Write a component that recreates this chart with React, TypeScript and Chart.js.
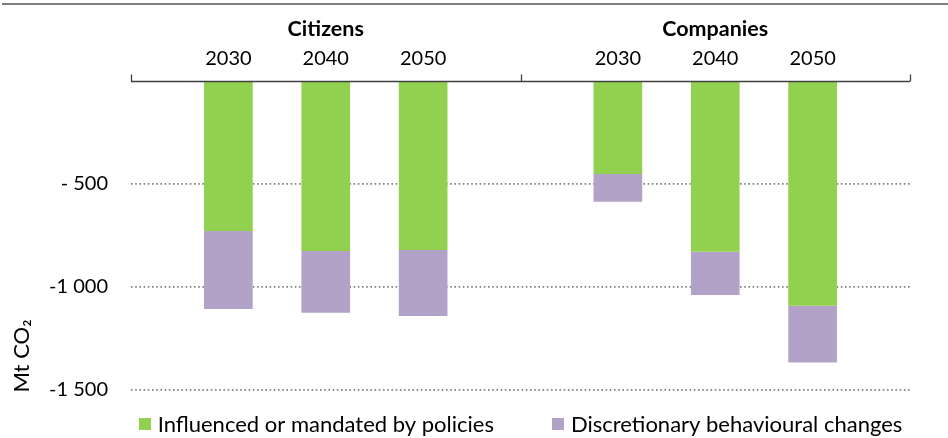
import React, { useEffect, useRef } from "react";
import { Chart, registerables } from "chart.js";

Chart.register(...registerables);

// ---- data ----
const categories = ["", "2030", "2040", "2050", "", "2030", "2040", "2050", ""];
const groupLabels = ["Citizens", "Companies"];
const groupCenters = [2, 6];
const groupBoundaries = [0, 4, 8];
const seriesNames = ["Influenced or mandated by policies", "Discretionary behavioural changes"];
const policyValues = [null, -728, -825, -820, null, -451, -829, -1091, null];
const behaviourValues = [null, -379, -300, -321, null, -135, -210, -275, null];
const yTickValues = [-1500, -1000, -500];
const yTickLabels = ["-1 500", "-1 000", "- 500"];
const yTitle = "Mt CO\u2082";

const GREEN = "#92D050";
const PURPLE = "#B3A2C7";
const FONT = "Lato, 'Open Sans', sans-serif";
const FS = 20;
const FS_TEXT = 22;

const decor = {
  id: "decor",
  afterDraw(chart: any) {
    const ctx = chart.ctx;
    const x = chart.scales.x;
    const y = chart.scales.y;
    const ca = chart.chartArea;
    ctx.save();
    // top rule
    ctx.fillStyle = "#7f7f7f";
    ctx.fillRect(2, 3, chart.width - 2, 2);
    // category axis line with group separators
    const y0 = Math.round(y.getPixelForValue(0)) + 0.5;
    ctx.strokeStyle = "#404040";
    ctx.lineWidth = 1.3;
    ctx.beginPath();
    ctx.moveTo(x.getPixelForValue(groupBoundaries[0]), y0);
    ctx.lineTo(x.getPixelForValue(groupBoundaries[groupBoundaries.length - 1]), y0);
    groupBoundaries.forEach((i) => {
      const px = Math.round(x.getPixelForValue(i)) + 0.5;
      ctx.moveTo(px, y0);
      ctx.lineTo(px, y0 - 7);
    });
    ctx.stroke();
    // group labels
    ctx.fillStyle = "#000";
    ctx.textAlign = "center";
    ctx.textBaseline = "middle";
    ctx.font = `bold 21.5px ${FONT}`;
    groupLabels.forEach((g, i) => {
      ctx.fillText(g, x.getPixelForValue(groupCenters[i]), 29);
    });
    // y title
    ctx.save();
    ctx.translate(22, 356);
    ctx.rotate(-Math.PI / 2);
    ctx.font = `${FS_TEXT}px ${FONT}`;
    ctx.fillText(yTitle, 0, 0);
    ctx.restore();
    // legend
    ctx.font = `${FS_TEXT}px ${FONT}`;
    const box = 12, gap = 7, itemGap = 58;
    const ds = chart.data.datasets;
    const widths = ds.map((d: any) => ctx.measureText(d.label).width);
    const total = widths.reduce((a: number, w: number) => a + box + gap + w, 0) + itemGap * (ds.length - 1);
    let cx = (ca.left + ca.right) / 2 - total / 2;
    const ly = 424;
    ctx.textAlign = "left";
    ds.forEach((d: any, i: number) => {
      ctx.fillStyle = d.backgroundColor;
      ctx.fillRect(Math.round(cx), ly - box / 2, box, box);
      ctx.fillStyle = "#000";
      ctx.fillText(d.label, cx + box + gap, ly + 1);
      cx += box + gap + widths[i] + itemGap;
    });
    ctx.restore();
  },
};

export default function App() {
  const ref = useRef<HTMLCanvasElement | null>(null);
  useEffect(() => {
    document.body.style.margin = "0";
    const chart = new Chart(ref.current as HTMLCanvasElement, {
      type: "bar",
      data: {
        labels: categories,
        datasets: [
          { label: seriesNames[0], data: policyValues, backgroundColor: GREEN, borderWidth: 0, categoryPercentage: 1, barPercentage: 0.5 },
          { label: seriesNames[1], data: behaviourValues, backgroundColor: PURPLE, borderWidth: 0, categoryPercentage: 1, barPercentage: 0.5 },
        ],
      },
      options: {
        responsive: false,
        animation: false,
        devicePixelRatio: 1,
        layout: { padding: { left: 0, right: 38, top: 0, bottom: 48 } },
        plugins: { legend: { display: false }, tooltip: { enabled: false } },
        scales: {
          x: {
            type: "category",
            position: "top",
            stacked: true,
            offset: false,
            grid: { display: false, drawTicks: false },
            border: { display: false },
            ticks: { autoSkip: false, maxRotation: 0, padding: 10, color: "#000", font: { family: FONT, size: FS } },
            afterFit: (s: any) => { s.height = 81; },
          },
          y: {
            stacked: true,
            min: -1500,
            max: 0,
            grid: {
              drawTicks: false,
              lineWidth: 1.8,
              color: (c: any) => (c.tick && c.tick.value === 0 ? "rgba(0,0,0,0)" : "#808080"),
            },
            border: { display: false, dash: [1.6, 2.6] },
            ticks: {
              stepSize: 500,
              padding: 23,
              color: "#000",
              font: { family: FONT, size: FS },
              callback: (v: any) => {
                const i = yTickValues.indexOf(Number(v));
                return i >= 0 ? yTickLabels[i] : "";
              },
            },
            afterFit: (s: any) => { s.width = 131; },
          },
        },
      },
      plugins: [decor],
    });
    return () => chart.destroy();
  }, []);
  return (
    <div style={{ width: 948, height: 438 }}>
      <canvas ref={ref} width={948} height={438} />
    </div>
  );
}
